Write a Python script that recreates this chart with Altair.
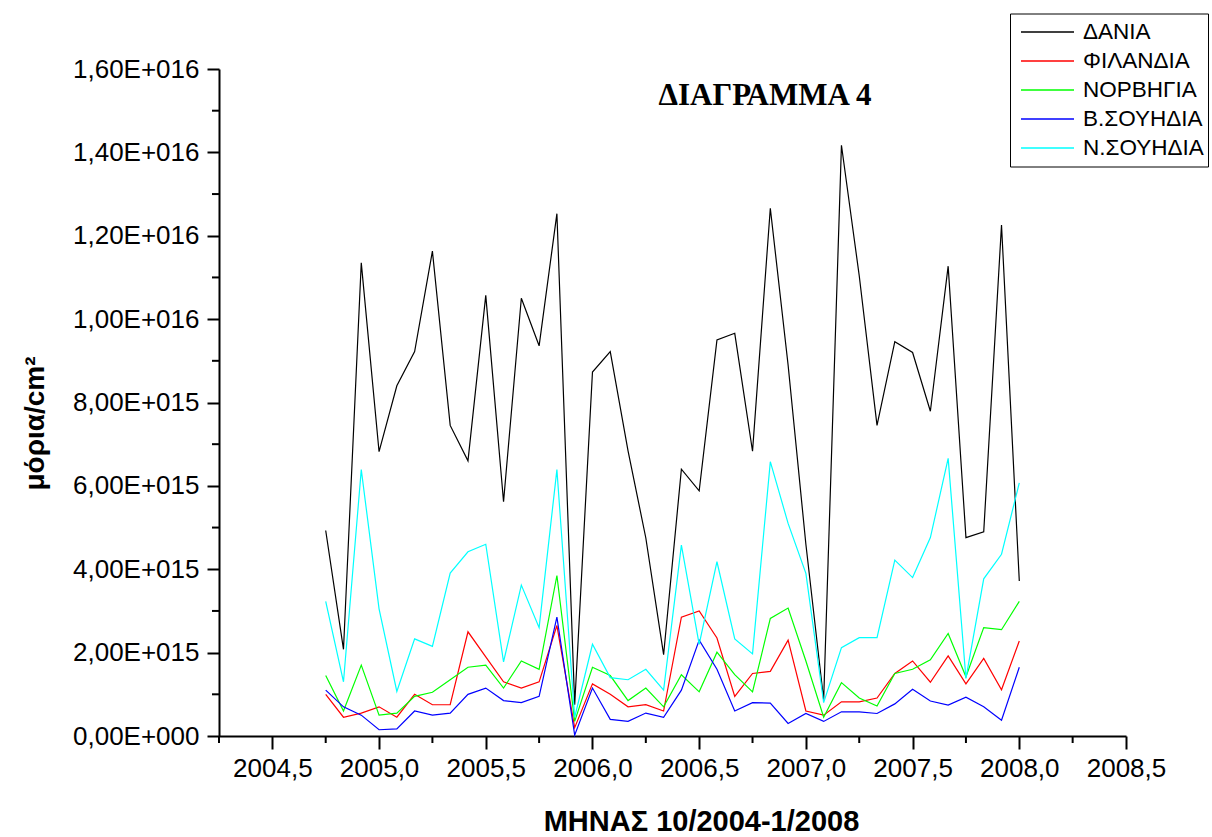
import altair as alt
import pandas as pd

# Monthly observations, October 2004 to January 2008
years = [2004] * 3 + [2005] * 12 + [2006] * 12 + [2007] * 12 + [2008]
months = [10, 11, 12] + list(range(1, 13)) * 3 + [1]

countries = ["ΔΑΝΙΑ", "ΦΙΛΑΝΔΙΑ", "ΝΟΡΒΗΓΙΑ", "Β.ΣΟΥΗΔΙΑ", "Ν.ΣΟΥΗΔΙΑ"]
colors = ["#000000", "#ff0000", "#00ff00", "#0000ff", "#00ffff"]

# values in units of 1E+015 particles/cm2
dania = [4.93, 2.08, 11.35, 6.82, 8.40, 9.22, 11.63, 7.45, 6.60, 10.57,
         5.62, 10.50, 9.36, 12.53, 0.75, 8.73, 9.22, 6.84, 4.75, 1.95,
         6.40, 5.88, 9.50, 9.66, 6.83, 12.66, 8.90, 4.60, 0.87, 14.17,
         11.04, 7.45, 9.46, 9.20, 7.79, 11.27, 4.76, 4.90, 12.26, 3.72]
filandia = [1.00, 0.45, 0.55, 0.70, 0.45, 1.00, 0.75, 0.75, 2.50, 1.90,
            1.30, 1.15, 1.30, 2.65, 0.20, 1.25, 1.00, 0.70, 0.75, 0.60,
            2.85, 3.00, 2.35, 0.95, 1.50, 1.55, 2.30, 0.60, 0.50, 0.82,
            0.82, 0.91, 1.50, 1.80, 1.29, 1.92, 1.25, 1.86, 1.11, 2.28]
norvigia = [1.45, 0.60, 1.70, 0.50, 0.55, 0.95, 1.05, 1.35, 1.65, 1.70,
            1.15, 1.80, 1.60, 3.85, 0.35, 1.65, 1.45, 0.85, 1.15, 0.70,
            1.47, 1.06, 2.01, 1.47, 1.06, 2.82, 3.07, 1.80, 0.45, 1.28,
            0.91, 0.72, 1.50, 1.60, 1.83, 2.46, 1.42, 2.60, 2.55, 3.23]
v_souidia = [1.10, 0.70, 0.50, 0.15, 0.17, 0.60, 0.50, 0.55, 1.00, 1.15,
             0.85, 0.80, 0.95, 2.85, 0.02, 1.15, 0.40, 0.35, 0.55, 0.45,
             1.10, 2.30, 1.60, 0.60, 0.80, 0.79, 0.30, 0.54, 0.35, 0.58,
             0.58, 0.54, 0.77, 1.12, 0.84, 0.74, 0.93, 0.70, 0.38, 1.65]
n_souidia = [3.23, 1.30, 6.39, 3.05, 1.07, 2.33, 2.15, 3.91, 4.42, 4.60,
             1.78, 3.62, 2.60, 6.39, 0.45, 2.20, 1.40, 1.35, 1.60, 1.10,
             4.58, 2.20, 4.18, 2.33, 1.97, 6.58, 5.10, 3.90, 0.80, 2.12,
             2.36, 2.36, 4.22, 3.80, 4.76, 6.66, 1.38, 3.77, 4.36, 6.07]

series = [dania, filandia, norvigia, v_souidia, n_souidia]

y_ticks = [0, 2e15, 4e15, 6e15, 8e15, 1e16, 1.2e16, 1.4e16, 1.6e16]
y_minor = [1e15, 3e15, 5e15, 7e15, 9e15, 1.1e16, 1.3e16, 1.5e16]
x_ticks = [2004.5, 2005.0, 2005.5, 2006.0, 2006.5, 2007.0, 2007.5, 2008.0, 2008.5]
x_minor = [2004.25, 2004.75, 2005.25, 2005.75, 2006.25, 2006.75, 2007.25,
           2007.75, 2008.25]

chart_title = "ΔΙΑΓΡΑΜΜΑ 4"
x_title = "ΜΗΝΑΣ 10/2004-1/2008"
y_title = "μόρια/cm²"

rows = []
for name, vals in zip(countries, series):
    for yr, mo, v in zip(years, months, vals):
        rows.append({"x": yr + (mo - 1) / 12, "country": name, "value": v * 1e15})
df = pd.DataFrame(rows)

W, H = 907, 667
FONT = "Liberation Sans"

x_scale = alt.Scale(domain=[2004.25, 2008.5], nice=False, zero=False)
y_scale = alt.Scale(domain=[0, 1.6e16], nice=False)

x_axis = alt.Axis(
    values=x_ticks,
    labelExpr="replace(format(datum.value, '.1f'), '.', ',')",
    title=x_title,
    titleX=482, titleY=94, titleBaseline="alphabetic",
    titleFontSize=29, titleFontWeight="bold", titleFont=FONT,
    labelFontSize=26, labelFont=FONT, labelPadding=6,
    tickSize=13, labelFlush=False, labelOverlap=False,
)
y_expo = "floor(log(datum.value) / LN10 + 0.000001)"
y_axis = alt.Axis(
    values=y_ticks,
    labelExpr=(
        "datum.value == 0 ? '0,00E+000' : "
        f"replace(format(datum.value / pow(10, {y_expo}), '.2f'), '.', ',') + 'E+' + "
        f"pad(toString({y_expo}), 3, '0', 'left')"
    ),
    title=y_title,
    titleX=-176, titleY=354, titleBaseline="alphabetic", titleAngle=-90,
    titleFontSize=28, titleFontWeight="bold", titleFont=FONT,
    labelFontSize=26, labelFont=FONT, labelPadding=8,
    tickSize=12, labelFlush=False, labelOverlap=False,
)

x_enc = alt.X("x:Q", scale=x_scale, axis=x_axis)
y_enc = alt.Y("value:Q", scale=y_scale, axis=y_axis)

lines = alt.Chart(df).mark_line(strokeWidth=1.2, clip=False).encode(
    x=x_enc,
    y=y_enc,
    color=alt.Color(
        "country:N",
        scale=alt.Scale(domain=countries, range=colors),
        sort=countries,
        legend=alt.Legend(
            title=None, orient="none", legendX=791, legendY=-55.5,
            symbolType="stroke", symbolSize=2809, symbolStrokeWidth=1.5,
            clipHeight=29, rowPadding=0, padding=4, symbolOffset=6,
            labelOffset=8, labelFontSize=22.5, labelFont=FONT,
            labelColor="black", strokeColor="black",
        ),
    ),
)

# minor ticks on both axes
y_minor_ticks = alt.Chart(pd.DataFrame({"value": y_minor})).mark_rule(
    color="black", strokeWidth=2
).encode(y=y_enc, x=alt.value(0), x2=alt.value(-7))

x_minor_ticks = alt.Chart(pd.DataFrame({"x": x_minor})).mark_rule(
    color="black", strokeWidth=2
).encode(x=x_enc, y=alt.value(H), y2=alt.value(H + 7))

title_mark = alt.Chart(pd.DataFrame({"t": [chart_title]})).mark_text(
    font="Liberation Serif", fontSize=31, fontWeight="bold",
    baseline="alphabetic", align="center", color="black",
).encode(text="t:N", x=alt.value(546), y=alt.value(36))

chart = alt.layer(lines, y_minor_ticks, x_minor_ticks, title_mark).properties(
    width=W, height=H,
    autosize=alt.AutoSizeParams(type="none"),
    padding={"left": 219, "top": 69, "right": 1212 - 219 - W, "bottom": 837 - 69 - H},
    background="white",
).configure_view(stroke=None).configure_axis(
    grid=False, domainColor="black", domainWidth=2, tickColor="black",
    tickWidth=2, labelColor="black", titleColor="black",
)

chart.save("out.html", embed_options={"renderer": "svg", "actions": False})
